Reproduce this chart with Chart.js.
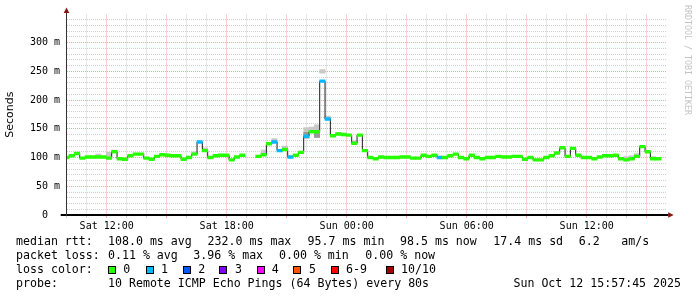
<!DOCTYPE html>
<html><head><meta charset="utf-8">
<script src="https://cdn.jsdelivr.net/npm/chart.js@4"></script>
<style>
html,body{margin:0;padding:0;background:#fff;}
#wrap{position:relative;width:697px;height:297px;overflow:hidden;background:#fff;}
#c{position:absolute;left:0;top:0;}
.t{position:absolute;font-family:"DejaVu Sans Mono",monospace;font-size:11.6px;line-height:14px;white-space:pre;color:#000;}
.sw{position:absolute;top:266px;width:6px;height:6px;border:1px solid #000;}
#wm{position:absolute;left:684px;top:5px;font-family:"DejaVu Sans Mono",monospace;font-size:8.3px;line-height:8px;color:#c4c4c4;writing-mode:vertical-rl;white-space:pre;}
</style></head>
<body>
<div id="wrap">
<canvas id="c" width="697" height="297"></canvas>
<div id="wm">RRDTOOL / TOBI OETIKER</div>
<div class="t" style="left:16px;top:234px">median rtt:</div>
<div class="t" style="left:108px;top:234px">108.0 ms avg</div>
<div class="t" style="left:207.6px;top:234px">232.0 ms max</div>
<div class="t" style="left:307.6px;top:234px">95.7 ms min</div>
<div class="t" style="left:400px;top:234px">98.5 ms now</div>
<div class="t" style="left:493.3px;top:234px">17.4 ms sd</div>
<div class="t" style="left:578.7px;top:234px">6.2</div>
<div class="t" style="left:621.3px;top:234px">am/s</div>
<div class="t" style="left:16px;top:248px">packet loss:</div>
<div class="t" style="left:108px;top:248px">0.11 % avg</div>
<div class="t" style="left:193.3px;top:248px">3.96 % max</div>
<div class="t" style="left:279px;top:248px">0.00 % min</div>
<div class="t" style="left:365.3px;top:248px">0.00 % now</div>
<div class="t" style="left:16px;top:262px">loss color:</div>
<div id="swatches"></div>
<div class="t" style="left:16px;top:276px">probe:</div>
<div class="t" style="left:108px;top:276px">10 Remote ICMP Echo Pings (64 Bytes) every 80s</div>
<div class="t" style="right:16px;top:276px">Sun Oct 12 15:57:45 2025</div>
</div>
<script>
// ---- data ----
const STEP_MIN = 16;            // consolidation step, minutes
const DATA_START_MIN = 591;     // Sat 09:51 (minutes from Sat 00:00)
const AXIS_START_MIN = 600;     // Sat 10:00
const AXIS_END_MIN = 2400;      // Sun 16:00

const xLabelMinutes = [720, 1080, 1440, 1800, 2160];
const xLabels = ["Sat 12:00", "Sat 18:00", "Sun 00:00", "Sun 06:00", "Sun 12:00"];
const yLabelValues = [0, 50, 100, 150, 200, 250, 300];
const yLabels = ["0  ", "50 m", "100 m", "150 m", "200 m", "250 m", "300 m"];

// median rtt per step (ms)
const median = [
  100,103,107,99,101,101,101,101,99,110,
  98,97,103,106,106,99,97,102,105,104,
  103,103,97,100,106,127,112,100,103,104,
  104,96,101,104,null,null,102,105,124,127,
  112,114,101,104,109,137,145,145,233,167,
  138,141,140,139,125,139,112,100,98,101,
  100,100,100,101,101,99,99,104,102,104,
  100,100,103,106,100,98,104,100,98,100,
  100,102,101,101,102,102,97,100,96,96,
  100,103,108,117,102,116,104,100,100,98,
  101,103,103,104,98,96,98,102,119,110,
  98,98
];
// lost pings (of 10) per step
const loss = [
  0,0,0,0,0,0,0,0,0,0,
  0,0,0,0,0,0,0,0,0,0,
  0,0,0,0,0,1,0,0,0,0,
  0,0,0,0,null,null,0,0,0,1,
  1,0,1,0,0,1,0,0,1,1,
  0,0,0,0,0,0,0,0,0,0,
  0,0,0,0,0,0,0,0,0,0,
  1,0,0,0,0,0,0,0,0,0,
  0,0,0,0,0,0,0,0,0,0,
  0,0,0,0,0,0,0,0,0,0,
  0,0,0,0,0,0,0,0,0,0,
  0,0
];
// visible smoke (ping spread) per step
const smokeStep = [6, 8, 9, 24, 26, 37, 39, 41, 45, 46, 47, 48, 49, 51, 54, 105, 106, 107, 110];
const smokeLow  = [100, 98, 109, 105, 111, 104, 126, 113, 133, 144, 135, 247, 166, 140, 124, 95, 97, 101, 97];
const smokeHigh = [106, 109, 113, 110, 117, 113, 133, 120, 152, 153, 157, 253, 172, 144, 129, 101.5, 103, 107, 101.5];
const innerStep = [45, 47];
const innerLow  = [139, 135];
const innerHigh = [144, 143];

const lossLabels = ["0", "1", "2", "3", "4", "5", "6-9", "10/10"];
const lossSwatch = ['#26ff00', '#00b8ff', '#0059ff', '#7e00ff', '#ff00ff', '#ff5500', '#ff0000', '#a10000'];
const lossColorOf = n => n >= 10 ? lossSwatch[7] : n >= 6 ? lossSwatch[6] : lossSwatch[n];

// ---- legend swatches ----
const swX = [108.3, 145.7, 182.7, 219.3, 256.7, 293.3, 330.7, 386];
const swLabelX = [123.3, 161, 198.3, 235, 271.7, 309, 346, 401];
const swHost = document.getElementById('swatches');
lossLabels.forEach((lab, i) => {
  const b = document.createElement('div');
  b.className = 'sw'; b.style.left = swX[i] + 'px'; b.style.background = lossSwatch[i];
  swHost.appendChild(b);
  const t = document.createElement('div');
  t.className = 't'; t.style.left = swLabelX[i] + 'px'; t.style.top = '262px'; t.textContent = lab;
  swHost.appendChild(t);
});

// ---- chart ----
const center = i => DATA_START_MIN + (i + 0.5) * STEP_MIN;
const BAND = 2.4;
const bandData = [], bandColors = [];
median.forEach((v, i) => {
  if (v === null) return;
  bandData.push({x: center(i), y: [v - BAND, v + BAND]});
  bandColors.push(lossColorOf(loss[i]));
});
const lineData = median.map((v, i) => ({x: center(i), y: v}));
const smokeData = smokeStep.map((s, k) => ({x: center(s), y: [smokeLow[k], smokeHigh[k]]}));
const innerData = innerStep.map((s, k) => ({x: center(s), y: [innerLow[k], innerHigh[k]]}));

const hourTicks = [];
for (let m = AXIS_START_MIN; m < AXIS_END_MIN; m += 60) hourTicks.push(m);
const yGrid = [];
for (let v = 0; v <= 340; v += 10) yGrid.push(v);

const GREY = '#cfcfcf', RED = '#f2a6a6';

const axesPlugin = {
  id: 'rrdAxes',
  afterDatasetsDraw(chart) {
    const {ctx, chartArea: a} = chart;
    ctx.save();
    ctx.strokeStyle = '#000'; ctx.lineWidth = 2;
    ctx.beginPath(); ctx.moveTo(a.left - 6, a.bottom); ctx.lineTo(a.right + 2, a.bottom); ctx.stroke();
    const yx = Math.floor(a.left) + 0.5;
    ctx.strokeStyle = '#333'; ctx.lineWidth = 1;
    ctx.beginPath(); ctx.moveTo(yx, a.bottom + 1); ctx.lineTo(yx, a.top - 2); ctx.stroke();
    ctx.fillStyle = '#8b1414';
    ctx.beginPath(); ctx.moveTo(yx, a.top - 7); ctx.lineTo(yx - 2.8, a.top - 1.5); ctx.lineTo(yx + 2.8, a.top - 1.5); ctx.closePath(); ctx.fill();
    ctx.beginPath(); ctx.moveTo(a.right + 7, a.bottom); ctx.lineTo(a.right + 1.5, a.bottom - 2.8); ctx.lineTo(a.right + 1.5, a.bottom + 2.8); ctx.closePath(); ctx.fill();
    ctx.restore();
  }
};

new Chart(document.getElementById('c'), {
  type: 'bar',
  data: {
    datasets: [
      {type: 'bar', data: bandData, backgroundColor: bandColors, borderWidth: 0, grouped: false,
       barPercentage: 1, categoryPercentage: 1, order: 0},
      {type: 'line', data: lineData, borderColor: '#1c1c1c', borderWidth: 1, pointRadius: 0,
       stepped: 'middle', spanGaps: false, fill: false, order: 1},
      {type: 'bar', data: innerData, backgroundColor: '#9a9a9a', borderWidth: 0, grouped: false,
       barPercentage: 1, categoryPercentage: 1, order: 2},
      {type: 'bar', data: smokeData, backgroundColor: '#c8c8c8', borderWidth: 0, grouped: false,
       barPercentage: 1, categoryPercentage: 1, order: 3}
    ]
  },
  options: {
    responsive: false,
    animation: false,
    devicePixelRatio: 1,
    layout: {padding: {left: 0, right: 30.3, top: 14.5, bottom: 0}},
    plugins: {legend: {display: false}, tooltip: {enabled: false}},
    scales: {
      x: {
        type: 'linear', min: AXIS_START_MIN, max: AXIS_END_MIN, offset: false,
        afterBuildTicks: s => { s.ticks = hourTicks.map(v => ({value: v})); },
        afterFit: s => { s.height = 82; },
        ticks: {
          autoSkip: false, maxRotation: 0, minRotation: 0, padding: 2,
          font: {family: 'DejaVu Sans Mono', size: 10}, color: '#000',
          callback: v => { const k = xLabelMinutes.indexOf(v); return k < 0 ? '' : xLabels[k]; }
        },
        grid: {
          offset: false, drawTicks: true, tickLength: 3,
          color: c => (c.tick && c.tick.value % 180 === 0) ? RED : GREY,
          tickColor: c => (c.tick && c.tick.value % 180 === 0) ? RED : GREY
        },
        border: {display: false, dash: [1, 1]}
      },
      y: {
        type: 'linear', min: 0, max: 349,
        afterBuildTicks: s => { s.ticks = yGrid.map(v => ({value: v})); },
        afterFit: s => { s.width = 66.7; },
        ticks: {
          autoSkip: false, padding: 6.7,
          font: {family: 'DejaVu Sans Mono', size: 10}, color: '#000',
          callback: v => { const k = yLabelValues.indexOf(v); return k < 0 ? '' : yLabels[k]; }
        },
        grid: {
          drawTicks: false,
          color: c => (c.tick && c.tick.value % 50 === 0) ? RED : GREY
        },
        border: {display: false, dash: [1, 1]},
        title: {display: true, text: 'Seconds', color: '#000',
                font: {family: 'DejaVu Sans', size: 11}, padding: {top: 4, bottom: 0}}
      }
    }
  },
  plugins: [axesPlugin]
});
</script>
</body></html>
